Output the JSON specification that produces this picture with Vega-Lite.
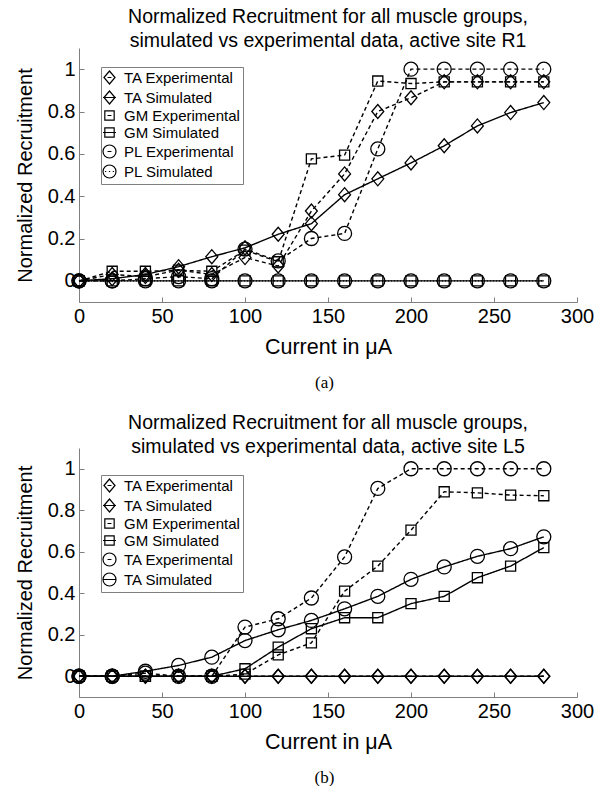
{
  "$schema": "https://vega.github.io/schema/vega-lite/v6.json",
  "padding": {"left": 15, "top": 6, "right": 0, "bottom": 0},
  "background": "white",
  "config": {
    "font": "Liberation Sans",
    "view": {"stroke": null},
    "axis": {
      "domainColor": "#7f7f7f", "tickColor": "#7f7f7f", "tickSize": -5, "labelPadding": 9,
      "labelFontSize": 20, "titleFontSize": 21, "titleFontWeight": "normal",
      "labelColor": "black", "titleColor": "black", "grid": false,
      "labelFont": "Liberation Sans", "titleFont": "Liberation Sans",
      "labelFlush": false, "labelOverlap": false
    },
    "title": {"font": "Liberation Sans", "fontSize": 19.5, "fontWeight": "normal", "lineHeight": 24, "color": "black", "anchor": "middle", "frame": "group", "offset": -3},
    "legend": {
      "orient": "none", "strokeColor": "#7f7f7f", "fillColor": "white", "padding": 3,
      "labelFont": "Liberation Sans", "labelFontSize": 15, "labelColor": "black",
      "symbolSize": 169, "symbolStrokeWidth": 1.2, "symbolStrokeColor": "black",
      "symbolFillColor": "transparent", "symbolOpacity": 1, "rowPadding": 1, "labelOffset": 7, "symbolOffset": -2
    }
  },
  "datasets": {
    "a": [
      {"series": "TA Experimental", "x": 0, "y": 0}, {"series": "TA Experimental", "x": 20, "y": 0.03}, {"series": "TA Experimental", "x": 40, "y": 0.02}, {"series": "TA Experimental", "x": 60, "y": 0.05}, {"series": "TA Experimental", "x": 80, "y": 0.03}, {"series": "TA Experimental", "x": 100, "y": 0.11}, {"series": "TA Experimental", "x": 120, "y": 0.07}, {"series": "TA Experimental", "x": 140, "y": 0.33}, {"series": "TA Experimental", "x": 160, "y": 0.505}, {"series": "TA Experimental", "x": 180, "y": 0.8}, {"series": "TA Experimental", "x": 200, "y": 0.865}, {"series": "TA Experimental", "x": 220, "y": 0.94}, {"series": "TA Experimental", "x": 240, "y": 0.94}, {"series": "TA Experimental", "x": 260, "y": 0.94}, {"series": "TA Experimental", "x": 280, "y": 0.94},
      {"series": "TA Simulated", "x": 0, "y": 0}, {"series": "TA Simulated", "x": 20, "y": 0.01}, {"series": "TA Simulated", "x": 40, "y": 0.03}, {"series": "TA Simulated", "x": 60, "y": 0.067}, {"series": "TA Simulated", "x": 80, "y": 0.114}, {"series": "TA Simulated", "x": 100, "y": 0.156}, {"series": "TA Simulated", "x": 120, "y": 0.22}, {"series": "TA Simulated", "x": 140, "y": 0.27}, {"series": "TA Simulated", "x": 160, "y": 0.407}, {"series": "TA Simulated", "x": 180, "y": 0.482}, {"series": "TA Simulated", "x": 200, "y": 0.557}, {"series": "TA Simulated", "x": 220, "y": 0.638}, {"series": "TA Simulated", "x": 240, "y": 0.732}, {"series": "TA Simulated", "x": 260, "y": 0.795}, {"series": "TA Simulated", "x": 280, "y": 0.842},
      {"series": "GM Experimental", "x": 0, "y": 0}, {"series": "GM Experimental", "x": 20, "y": 0.045}, {"series": "GM Experimental", "x": 40, "y": 0.045}, {"series": "GM Experimental", "x": 60, "y": 0.05}, {"series": "GM Experimental", "x": 80, "y": 0.045}, {"series": "GM Experimental", "x": 100, "y": 0.145}, {"series": "GM Experimental", "x": 120, "y": 0.09}, {"series": "GM Experimental", "x": 140, "y": 0.576}, {"series": "GM Experimental", "x": 160, "y": 0.594}, {"series": "GM Experimental", "x": 180, "y": 0.944}, {"series": "GM Experimental", "x": 200, "y": 0.932}, {"series": "GM Experimental", "x": 220, "y": 0.94}, {"series": "GM Experimental", "x": 240, "y": 0.94}, {"series": "GM Experimental", "x": 260, "y": 0.94}, {"series": "GM Experimental", "x": 280, "y": 0.94},
      {"series": "GM Simulated", "x": 0, "y": 0}, {"series": "GM Simulated", "x": 20, "y": 0}, {"series": "GM Simulated", "x": 40, "y": 0}, {"series": "GM Simulated", "x": 60, "y": 0}, {"series": "GM Simulated", "x": 80, "y": 0}, {"series": "GM Simulated", "x": 100, "y": 0}, {"series": "GM Simulated", "x": 120, "y": 0}, {"series": "GM Simulated", "x": 140, "y": 0}, {"series": "GM Simulated", "x": 160, "y": 0}, {"series": "GM Simulated", "x": 180, "y": 0}, {"series": "GM Simulated", "x": 200, "y": 0}, {"series": "GM Simulated", "x": 220, "y": 0}, {"series": "GM Simulated", "x": 240, "y": 0}, {"series": "GM Simulated", "x": 260, "y": 0}, {"series": "GM Simulated", "x": 280, "y": 0},
      {"series": "PL Experimental", "x": 0, "y": 0}, {"series": "PL Experimental", "x": 20, "y": 0}, {"series": "PL Experimental", "x": 40, "y": 0.01}, {"series": "PL Experimental", "x": 60, "y": 0.02}, {"series": "PL Experimental", "x": 80, "y": 0.01}, {"series": "PL Experimental", "x": 100, "y": 0.15}, {"series": "PL Experimental", "x": 120, "y": 0.094}, {"series": "PL Experimental", "x": 140, "y": 0.2}, {"series": "PL Experimental", "x": 160, "y": 0.224}, {"series": "PL Experimental", "x": 180, "y": 0.623}, {"series": "PL Experimental", "x": 200, "y": 1.0}, {"series": "PL Experimental", "x": 220, "y": 1.0}, {"series": "PL Experimental", "x": 240, "y": 1.0}, {"series": "PL Experimental", "x": 260, "y": 1.0}, {"series": "PL Experimental", "x": 280, "y": 1.0},
      {"series": "PL Simulated", "x": 0, "y": 0}, {"series": "PL Simulated", "x": 20, "y": 0}, {"series": "PL Simulated", "x": 40, "y": 0}, {"series": "PL Simulated", "x": 60, "y": 0}, {"series": "PL Simulated", "x": 80, "y": 0}, {"series": "PL Simulated", "x": 100, "y": 0}, {"series": "PL Simulated", "x": 120, "y": 0}, {"series": "PL Simulated", "x": 140, "y": 0}, {"series": "PL Simulated", "x": 160, "y": 0}, {"series": "PL Simulated", "x": 180, "y": 0}, {"series": "PL Simulated", "x": 200, "y": 0}, {"series": "PL Simulated", "x": 220, "y": 0}, {"series": "PL Simulated", "x": 240, "y": 0}, {"series": "PL Simulated", "x": 260, "y": 0}, {"series": "PL Simulated", "x": 280, "y": 0}
    ],
    "b": [
      {"series": "TA Experimental", "x": 0, "y": 0}, {"series": "TA Experimental", "x": 20, "y": 0}, {"series": "TA Experimental", "x": 40, "y": 0}, {"series": "TA Experimental", "x": 60, "y": 0}, {"series": "TA Experimental", "x": 80, "y": 0}, {"series": "TA Experimental", "x": 100, "y": 0}, {"series": "TA Experimental", "x": 120, "y": 0}, {"series": "TA Experimental", "x": 140, "y": 0}, {"series": "TA Experimental", "x": 160, "y": 0}, {"series": "TA Experimental", "x": 180, "y": 0}, {"series": "TA Experimental", "x": 200, "y": 0}, {"series": "TA Experimental", "x": 220, "y": 0}, {"series": "TA Experimental", "x": 240, "y": 0}, {"series": "TA Experimental", "x": 260, "y": 0}, {"series": "TA Experimental", "x": 280, "y": 0},
      {"series": "TA Simulated", "x": 0, "y": 0}, {"series": "TA Simulated", "x": 20, "y": 0}, {"series": "TA Simulated", "x": 40, "y": 0}, {"series": "TA Simulated", "x": 60, "y": 0}, {"series": "TA Simulated", "x": 80, "y": 0}, {"series": "TA Simulated", "x": 100, "y": 0}, {"series": "TA Simulated", "x": 120, "y": 0}, {"series": "TA Simulated", "x": 140, "y": 0}, {"series": "TA Simulated", "x": 160, "y": 0}, {"series": "TA Simulated", "x": 180, "y": 0}, {"series": "TA Simulated", "x": 200, "y": 0}, {"series": "TA Simulated", "x": 220, "y": 0}, {"series": "TA Simulated", "x": 240, "y": 0}, {"series": "TA Simulated", "x": 260, "y": 0}, {"series": "TA Simulated", "x": 280, "y": 0},
      {"series": "GM Experimental", "x": 0, "y": 0}, {"series": "GM Experimental", "x": 20, "y": 0}, {"series": "GM Experimental", "x": 40, "y": 0}, {"series": "GM Experimental", "x": 60, "y": 0}, {"series": "GM Experimental", "x": 80, "y": 0}, {"series": "GM Experimental", "x": 100, "y": 0.01}, {"series": "GM Experimental", "x": 120, "y": 0.103}, {"series": "GM Experimental", "x": 140, "y": 0.161}, {"series": "GM Experimental", "x": 160, "y": 0.41}, {"series": "GM Experimental", "x": 180, "y": 0.531}, {"series": "GM Experimental", "x": 200, "y": 0.704}, {"series": "GM Experimental", "x": 220, "y": 0.889}, {"series": "GM Experimental", "x": 240, "y": 0.884}, {"series": "GM Experimental", "x": 260, "y": 0.873}, {"series": "GM Experimental", "x": 280, "y": 0.87},
      {"series": "GM Simulated", "x": 0, "y": 0}, {"series": "GM Simulated", "x": 20, "y": 0}, {"series": "GM Simulated", "x": 40, "y": 0}, {"series": "GM Simulated", "x": 60, "y": 0}, {"series": "GM Simulated", "x": 80, "y": 0}, {"series": "GM Simulated", "x": 100, "y": 0.036}, {"series": "GM Simulated", "x": 120, "y": 0.14}, {"series": "GM Simulated", "x": 140, "y": 0.229}, {"series": "GM Simulated", "x": 160, "y": 0.282}, {"series": "GM Simulated", "x": 180, "y": 0.282}, {"series": "GM Simulated", "x": 200, "y": 0.35}, {"series": "GM Simulated", "x": 220, "y": 0.385}, {"series": "GM Simulated", "x": 240, "y": 0.475}, {"series": "GM Simulated", "x": 260, "y": 0.531}, {"series": "GM Simulated", "x": 280, "y": 0.62},
      {"series": "PL Experimental", "x": 0, "y": 0}, {"series": "PL Experimental", "x": 20, "y": 0}, {"series": "PL Experimental", "x": 40, "y": 0.015}, {"series": "PL Experimental", "x": 60, "y": 0}, {"series": "PL Experimental", "x": 80, "y": 0}, {"series": "PL Experimental", "x": 100, "y": 0.237}, {"series": "PL Experimental", "x": 120, "y": 0.277}, {"series": "PL Experimental", "x": 140, "y": 0.377}, {"series": "PL Experimental", "x": 160, "y": 0.575}, {"series": "PL Experimental", "x": 180, "y": 0.905}, {"series": "PL Experimental", "x": 200, "y": 1.0}, {"series": "PL Experimental", "x": 220, "y": 1.0}, {"series": "PL Experimental", "x": 240, "y": 1.0}, {"series": "PL Experimental", "x": 260, "y": 1.0}, {"series": "PL Experimental", "x": 280, "y": 1.0},
      {"series": "PL Simulated", "x": 0, "y": 0}, {"series": "PL Simulated", "x": 20, "y": 0}, {"series": "PL Simulated", "x": 40, "y": 0.024}, {"series": "PL Simulated", "x": 60, "y": 0.052}, {"series": "PL Simulated", "x": 80, "y": 0.092}, {"series": "PL Simulated", "x": 100, "y": 0.172}, {"series": "PL Simulated", "x": 120, "y": 0.224}, {"series": "PL Simulated", "x": 140, "y": 0.269}, {"series": "PL Simulated", "x": 160, "y": 0.325}, {"series": "PL Simulated", "x": 180, "y": 0.385}, {"series": "PL Simulated", "x": 200, "y": 0.467}, {"series": "PL Simulated", "x": 220, "y": 0.527}, {"series": "PL Simulated", "x": 240, "y": 0.578}, {"series": "PL Simulated", "x": 260, "y": 0.615}, {"series": "PL Simulated", "x": 280, "y": 0.672}
    ]
  },
  "spacing": 21,
  "resolve": {"scale": {"strokeDash": "independent", "shape": "independent"}, "legend": {"shape": "independent"}},
  "vconcat": [
    {
      "title": {"text": "(a)", "orient": "bottom", "font": "Liberation Serif", "fontSize": 17, "fontWeight": "normal", "offset": 17, "anchor": "middle", "frame": "bounds", "dx": 20},
      "resolve": {"scale": {"strokeDash": "independent", "shape": "independent"}, "legend": {"shape": "independent"}},
      "vconcat": [
        {
          "width": 498, "height": 254,
          "title": {"text": ["Normalized Recruitment for all muscle groups,", "simulated vs experimental data, active site R1"]},
          "data": {"name": "a"},
          "layer": [
            {
              "mark": {"type": "line", "color": "black", "strokeWidth": 1.4},
              "encoding": {
                "x": {"field": "x", "type": "quantitative", "scale": {"domain": [0, 300], "nice": false, "zero": false}, "axis": {"values": [0, 50, 100, 150, 200, 250, 300], "title": "Current in μA", "titlePadding": 10, "titleFontSize": 21.5}},
                "y": {"field": "y", "type": "quantitative", "scale": {"domain": [-0.1, 1.1], "nice": false, "zero": false}, "axis": {"values": [0, 0.2, 0.4, 0.6, 0.8, 1], "format": "~g", "title": "Normalized Recruitment", "titlePadding": 12, "titleFontSize": 20}},
                "detail": {"field": "series"},
                "strokeDash": {"field": "series", "scale": {"domain": ["TA Experimental", "TA Simulated", "GM Experimental", "GM Simulated", "PL Experimental", "PL Simulated"], "range": [[4, 3], [1, 0], [4, 3], [1, 0], [4, 3], [1, 2]]}, "legend": null}
              }
            },
            {
              "mark": {"type": "point", "filled": false, "color": "black", "strokeWidth": 1.3, "size": 196, "opacity": 1},
              "encoding": {
                "x": {"field": "x", "type": "quantitative"},
                "y": {"field": "y", "type": "quantitative"},
                "shape": {"field": "series", "scale": {"domain": ["TA Experimental", "TA Simulated", "GM Experimental", "GM Simulated", "PL Experimental", "PL Simulated"], "range": ["M-0.85,0L0,-1L0.85,0L0,1Z", "M-0.85,0L0,-1L0.85,0L0,1Z", "M-0.72,-0.72L0.72,-0.72L0.72,0.72L-0.72,0.72Z", "M-0.72,-0.72L0.72,-0.72L0.72,0.72L-0.72,0.72Z", "M1,0A1,1,0,1,1,-1,0A1,1,0,1,1,1,0Z", "M1,0A1,1,0,1,1,-1,0A1,1,0,1,1,1,0Z"]}, "legend": null}
              }
            },
            {
              "mark": {"type": "point", "filled": false, "color": "black", "strokeWidth": 1.2, "size": 169, "opacity": 0},
              "encoding": {
                "x": {"field": "x", "type": "quantitative"},
                "y": {"field": "y", "type": "quantitative"},
                "shape": {"field": "series", "scale": {"domain": ["TA Experimental", "TA Simulated", "GM Experimental", "GM Simulated", "PL Experimental", "PL Simulated"], "range": ["M-0.85,0L0,-1L0.85,0L0,1ZM-0.3,0L0.3,0", "M-0.85,0L0,-1L0.85,0L0,1ZM-1,0L1,0", "M-0.72,-0.72L0.72,-0.72L0.72,0.72L-0.72,0.72ZM-0.3,0L0.3,0", "M-0.72,-0.72L0.72,-0.72L0.72,0.72L-0.72,0.72ZM-1,0L1,0", "M1,0A1,1,0,1,1,-1,0A1,1,0,1,1,1,0ZM-0.3,0L0.3,0", "M1,0A1,1,0,1,1,-1,0A1,1,0,1,1,1,0ZM-0.7,0L-0.5,0M-0.1,0L0.1,0M0.5,0L0.7,0"]}, "legend": {"title": null, "legendX": 22, "legendY": 19}}
              }
            }
          ],
          "resolve": {"scale": {"shape": "independent"}}
        }
      ]
    },
    {
      "title": {"text": "(b)", "orient": "bottom", "font": "Liberation Serif", "fontSize": 17, "fontWeight": "normal", "offset": 17, "anchor": "middle", "frame": "bounds", "dx": 20},
      "resolve": {"scale": {"strokeDash": "independent", "shape": "independent"}, "legend": {"shape": "independent"}},
      "vconcat": [
        {
          "width": 498, "height": 249,
          "title": {"text": ["Normalized Recruitment for all muscle groups,", "simulated vs experimental data, active site L5"], "offset": -9},
          "data": {"name": "b"},
          "layer": [
            {
              "mark": {"type": "line", "color": "black", "strokeWidth": 1.4},
              "encoding": {
                "x": {"field": "x", "type": "quantitative", "scale": {"domain": [0, 300], "nice": false, "zero": false}, "axis": {"values": [0, 50, 100, 150, 200, 250, 300], "title": "Current in μA", "titlePadding": 10, "titleFontSize": 21.5}},
                "y": {"field": "y", "type": "quantitative", "scale": {"domain": [-0.1, 1.1], "nice": false, "zero": false}, "axis": {"values": [0, 0.2, 0.4, 0.6, 0.8, 1], "format": "~g", "title": "Normalized Recruitment", "titlePadding": 12, "titleFontSize": 20}},
                "detail": {"field": "series"},
                "strokeDash": {"field": "series", "scale": {"domain": ["TA Experimental", "TA Simulated", "GM Experimental", "GM Simulated", "PL Experimental", "PL Simulated"], "range": [[4, 3], [1, 0], [4, 3], [1, 0], [4, 3], [1, 0]]}, "legend": null}
              }
            },
            {
              "mark": {"type": "point", "filled": false, "color": "black", "strokeWidth": 1.3, "size": 196, "opacity": 1},
              "encoding": {
                "x": {"field": "x", "type": "quantitative"},
                "y": {"field": "y", "type": "quantitative"},
                "shape": {"field": "series", "scale": {"domain": ["TA Experimental", "TA Simulated", "GM Experimental", "GM Simulated", "PL Experimental", "PL Simulated"], "range": ["M-0.85,0L0,-1L0.85,0L0,1Z", "M-0.85,0L0,-1L0.85,0L0,1Z", "M-0.72,-0.72L0.72,-0.72L0.72,0.72L-0.72,0.72Z", "M-0.72,-0.72L0.72,-0.72L0.72,0.72L-0.72,0.72Z", "M1,0A1,1,0,1,1,-1,0A1,1,0,1,1,1,0Z", "M1,0A1,1,0,1,1,-1,0A1,1,0,1,1,1,0Z"]}, "legend": null}
              }
            },
            {
              "mark": {"type": "point", "filled": false, "color": "black", "strokeWidth": 1.2, "size": 169, "opacity": 0},
              "encoding": {
                "x": {"field": "x", "type": "quantitative"},
                "y": {"field": "y", "type": "quantitative"},
                "shape": {"field": "series", "scale": {"domain": ["TA Experimental", "TA Simulated", "GM Experimental", "GM Simulated", "PL Experimental", "PL Simulated"], "range": ["M-0.85,0L0,-1L0.85,0L0,1ZM-0.3,0L0.3,0", "M-0.85,0L0,-1L0.85,0L0,1ZM-1,0L1,0", "M-0.72,-0.72L0.72,-0.72L0.72,0.72L-0.72,0.72ZM-0.3,0L0.3,0", "M-0.72,-0.72L0.72,-0.72L0.72,0.72L-0.72,0.72ZM-1,0L1,0", "M1,0A1,1,0,1,1,-1,0A1,1,0,1,1,1,0ZM-0.3,0L0.3,0", "M1,0A1,1,0,1,1,-1,0A1,1,0,1,1,1,0ZM-1,0L1,0"]}, "legend": {"title": null, "legendX": 22, "legendY": 27, "labelExpr": "replace(datum.label, 'PL', 'TA')"}}
              }
            }
          ],
          "resolve": {"scale": {"shape": "independent"}}
        }
      ]
    }
  ]
}
